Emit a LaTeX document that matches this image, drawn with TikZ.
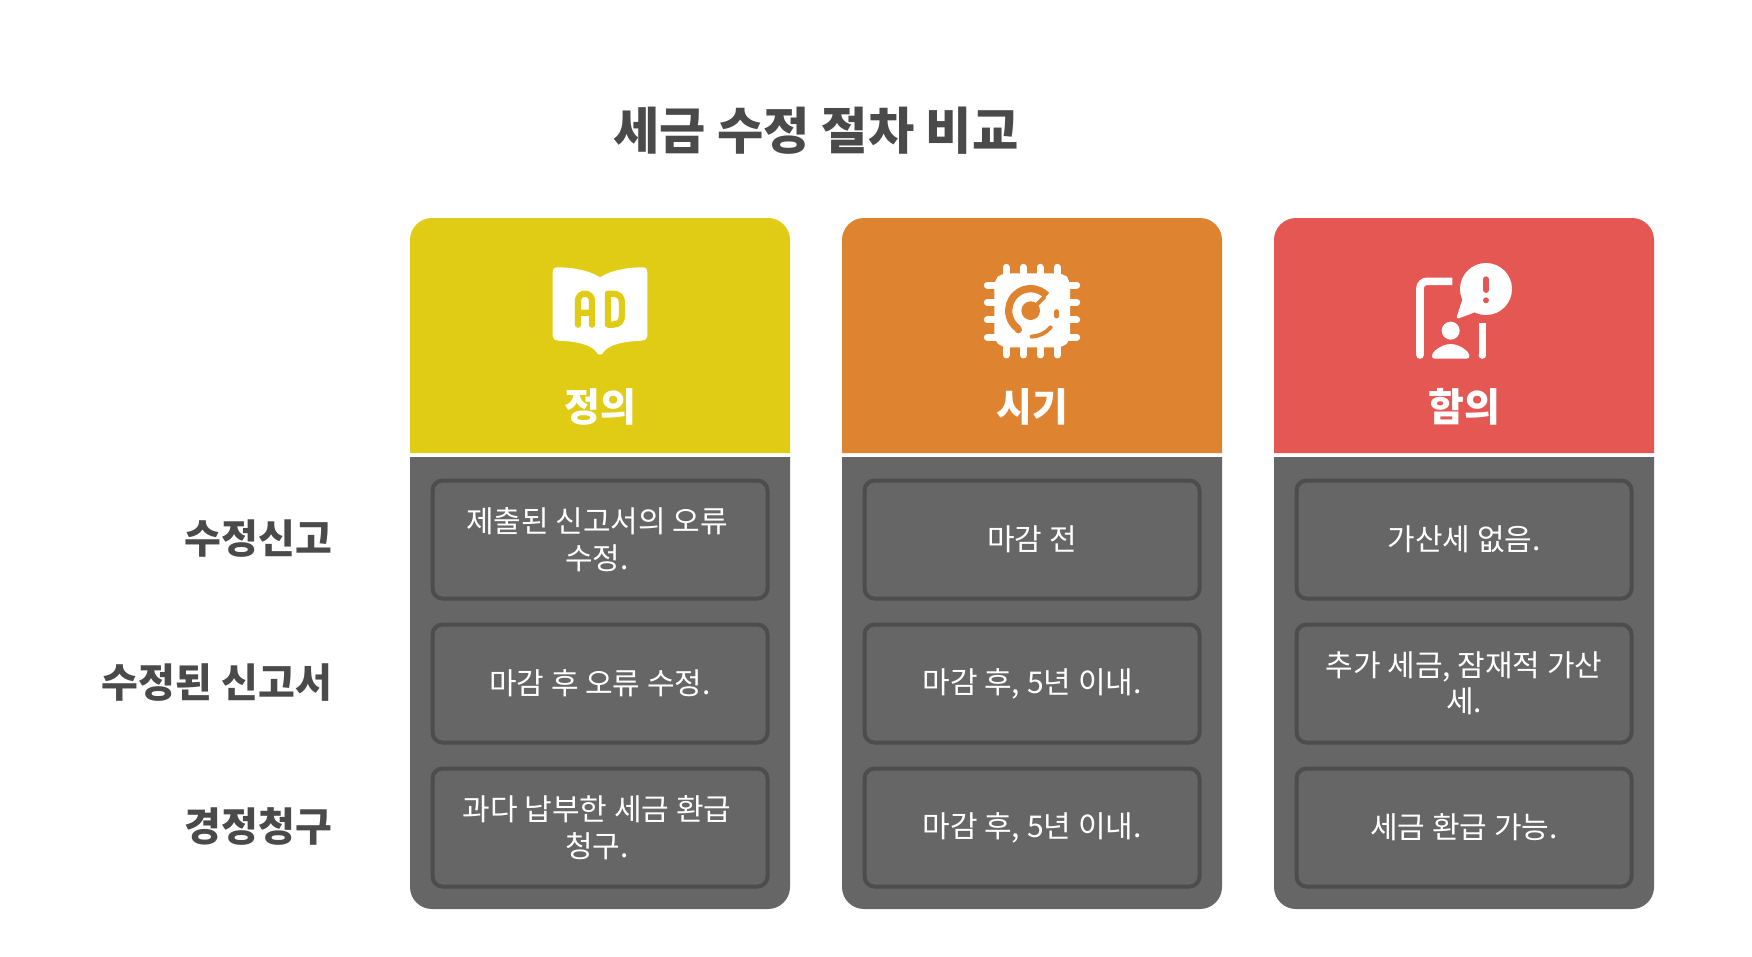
\documentclass[tikz,border=0pt]{standalone}
\usepackage{fontspec}
\setmainfont{Noto Sans CJK KR}
\definecolor{cyellow}{HTML}{E0CC14}
\definecolor{corange}{HTML}{DE8431}
\definecolor{cred}{HTML}{E55753}
\definecolor{cpanel}{HTML}{666666}
\definecolor{cedge}{HTML}{4D4D4D}
\definecolor{ctext}{HTML}{4A4A4A}
\tikzset{
	cell/.style={draw=cedge,fill=cpanel,line width=4pt,rounded corners=10pt,minimum width=335pt,minimum height=118pt,outer sep=0pt,inner sep=0pt,align=center,text=white,font=\fontsize{30}{36.5}\selectfont},
	rowlabel/.style={anchor=east,inner sep=0pt,text=ctext,font=\fontsize{40}{46}\selectfont\bfseries},
	headlabel/.style={inner sep=0pt,text=white,font=\fontsize{39}{44}\selectfont\bfseries},
	titlelabel/.style={inner sep=0pt,text=ctext,font=\fontsize{50.3}{56}\selectfont\bfseries},
	icon/.style={shift={#1},x=0.3333pt,y=-0.3333pt}
}
\newcommand{\lastgap}{\hspace*{6pt}}
\begin{document}
\begin{tikzpicture}[x=1pt,y=-1pt]
	\useasboundingbox (0,0) rectangle (1752,956);
	\node[titlelabel] (title) at (816,131) {세금 수정 절차 비교};
	% columns
	\foreach \col/\xl/\cc/\hd in {def/410/cyellow/정의,time/842/corange/시기,imp/1274/cred/함의}{
		\begin{scope}[shift={(\xl,0)}]
			\fill[\cc] (0,453) [rounded corners=22pt] -- (0,218) -- (380,218) [sharp corners] -- (380,453) -- cycle;
			\fill[cpanel] (0,457) [sharp corners] -- (380,457) [rounded corners=22pt] -- (380,909) -- (0,909) [sharp corners] -- cycle;
			\node[headlabel] (head\col) at (190,407) {\hd};
		\end{scope}
	}
	% row labels
	\node[rowlabel] (lab1) at (332,539) {수정신고};
	\node[rowlabel] (lab2) at (332,683) {수정된 신고서};
	\node[rowlabel] (lab3) at (332,827) {경정청구};
	% cells
	\foreach \n/\y/\a/\b/\c in {
		1/539.5/{제출된 신고서의 오류\lastgap\\수정.\lastgap}/마감 전/가산세 없음.,
		2/683.5/마감 후 오류 수정./{마감 후, 5년 이내.}/{추가 세금, 잠재적 가산\\세.},
		3/827.5/{과다 납부한 세금 환급\lastgap\\청구.\lastgap}/{마감 후, 5년 이내.}/세금 환급 가능.}{
		\node[cell] (def\n) at (600,\y) {\a};
		\node[cell] (time\n) at (1032,\y) {\b};
		\node[cell] (imp\n) at (1464,\y) {\c};
	}
	% book icon
	\begin{scope}[icon={(530,250)}]
		\fill[white] (210,82) .. controls (180,62) and (130,52) .. (82,52) .. controls (72,52) and (68,58) .. (68,68) -- (68,255) .. controls (68,265) and (74,271) .. (84,272) .. controls (130,274) and (175,280) .. (197,303) .. controls (203,318) and (217,318) .. (223,303) .. controls (245,280) and (290,274) .. (336,272) .. controls (346,271) and (352,265) .. (352,255) -- (352,68) .. controls (352,58) and (348,52) .. (338,52) .. controls (290,52) and (240,62) .. (210,82) -- cycle;
		\draw[cyellow,line width=6.3pt,line cap=round,line join=round] (144,224) -- (144,152) arc[start angle=180,end angle=360,radius=21] -- (186,224) (144,188) -- (186,188);
		\draw[cyellow,line width=6.3pt,line cap=round,line join=round] (234,131) -- (248,131) .. controls (268,131) and (276,142) .. (276,160) -- (276,195) .. controls (276,213) and (268,224) .. (248,224) -- (234,224) -- cycle;
	\end{scope}
	% chip icon
	\begin{scope}[icon={(960,240)}]
		\foreach \p in {138,190,240,292}{
			\draw[white,line width=7pt,line cap=round] (\p,82) -- (\p,130) (\p,290) -- (\p,345);
		}
		\foreach \p in {135,187,240,292}{
			\draw[white,line width=7pt,line cap=round] (82,\p) -- (130,\p) (300,\p) -- (350,\p);
		}
		\fill[white,rounded corners=6pt] (125,100) -- (310,100) -- (330,120) -- (330,300) -- (310,322) -- (125,322) -- (103,300) -- (103,120) -- cycle;
		\draw[corange,line width=7.3pt] (212,212) ++(-43:66) arc[start angle=-43,end angle=-236,radius=66];
		\fill[corange] (175,269) circle (11);
		\draw[corange,line width=4pt,line cap=round] (212,212) ++(-272:78) arc[start angle=-272,end angle=-320,radius=78];
		\fill[corange] (212,212) circle (28);
		\draw[corange,line width=4pt] (212,212) -- (254,170);
		\draw[corange,line width=5pt,line cap=round] (290,215) -- (290,228);
	\end{scope}
	% person icon
	\begin{scope}[icon={(1400,240)}]
		\draw[white,line width=7.6pt,rounded corners=7pt] (60,345) -- (60,124) -- (157,124);
		\fill[white] (60,345) circle (11.5);
		\fill[white] (258,147) circle (78);
		\fill[white,rounded corners=3pt] (188,175) -- (168,238) -- (230,215) -- cycle;
		\draw[cred,line width=6pt,line cap=round] (258,118) -- (258,150);
		\fill[cred] (258,181) circle (9);
		\draw[white,line width=7.6pt] (247,250) -- (247,345);
		\fill[white] (247,345) circle (11.5);
		\fill[white] (152,272) circle (27);
		\fill[white] (104,356) .. controls (92,356) and (94,340) .. (106,331) .. controls (136,306) and (168,306) .. (198,331) .. controls (210,340) and (212,356) .. (200,356) -- cycle;
	\end{scope}
\end{tikzpicture}
\end{document}
